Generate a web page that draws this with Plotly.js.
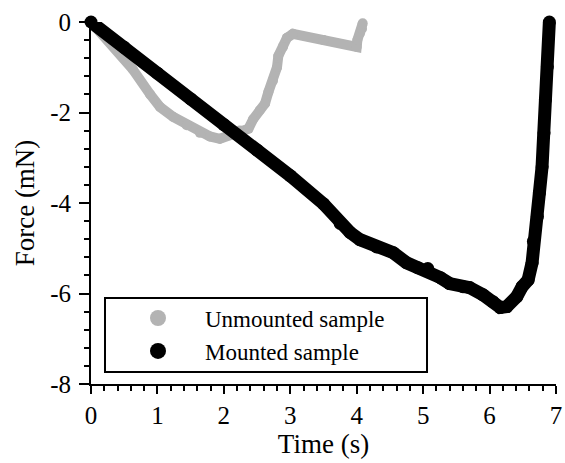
<!DOCTYPE html>
<html>
<head>
<meta charset="utf-8">
<script src="https://cdn.plot.ly/plotly-3.0.1.min.js"></script>
<style>html,body{margin:0;padding:0;background:#fff;}#chart{width:565px;height:463px;}</style>
</head>
<body>
<div id="chart"></div>
<script>
// Unmounted sample (gray)
var unmountedTime = [0, 0.14, 0.35, 0.63, 0.89, 1.04, 1.24, 1.44, 1.64, 1.79, 1.94, 2.09, 2.24, 2.37, 2.44, 2.54, 2.62, 2.67, 2.74, 2.8, 2.82, 2.89, 2.95, 3.04, 3.5, 4.0, 4.01, 4.05, 4.08, 4.09];
var unmountedForce = [0, -0.22, -0.55, -1.05, -1.6, -1.88, -2.1, -2.28, -2.45, -2.53, -2.58, -2.5, -2.4, -2.36, -2.15, -1.95, -1.8, -1.55, -1.3, -1.0, -0.75, -0.55, -0.35, -0.26, -0.4, -0.55, -0.4, -0.25, -0.15, -0.03];
// Mounted sample (black)
var mountedTime = [0, 0.5, 1, 1.5, 2, 2.5, 3, 3.5, 3.75, 3.9, 4.05, 4.3, 4.55, 4.75, 4.92, 5.07, 5.26, 5.4, 5.6, 5.7, 5.9, 6.05, 6.16, 6.26, 6.41, 6.49, 6.58, 6.64, 6.66, 6.72, 6.75, 6.79, 6.82, 6.84, 6.87, 6.9];
var mountedForce = [0, -0.56, -1.13, -1.7, -2.27, -2.83, -3.4, -4.02, -4.45, -4.65, -4.81, -4.97, -5.1, -5.32, -5.43, -5.45, -5.65, -5.78, -5.85, -5.87, -6.03, -6.18, -6.31, -6.29, -6.07, -5.85, -5.7, -5.32, -4.85, -4.3, -3.78, -3.2, -2.45, -1.72, -0.99, 0];
var seriesNames = ["Unmounted sample", "Mounted sample"];
var xTicks = [0, 1, 2, 3, 4, 5, 6, 7];
var yTicks = [-8, -6, -4, -2, 0];

var FONT = '"Liberation Serif", "Times New Roman", serif';
var GRAY = '#b3b3b3';

var traces = [
  {x: unmountedTime, y: unmountedForce, mode: 'lines+markers', cliponaxis: false,
   line: {color: GRAY, width: 10}, marker: {color: GRAY, size: 10}, showlegend: false, hoverinfo: 'skip'},
  {x: mountedTime, y: mountedForce, mode: 'lines+markers', cliponaxis: false,
   line: {color: '#000', width: 13}, marker: {color: '#000', size: 13}, showlegend: false, hoverinfo: 'skip'},
  {x: [null], y: [null], mode: 'markers', name: seriesNames[0], marker: {color: GRAY, size: 16}},
  {x: [null], y: [null], mode: 'markers', name: seriesNames[1], marker: {color: '#000', size: 16}}
];

var axisCommon = {
  showgrid: false, zeroline: false, showline: true, linecolor: '#000', linewidth: 2,
  ticks: 'outside', tickcolor: '#000', tickwidth: 2,
  tickfont: {family: FONT, size: 25, color: '#000'}
};

var layout = {
  width: 565, height: 463,
  margin: {l: 91, r: 9, t: 22, b: 79},
  paper_bgcolor: '#fff', plot_bgcolor: '#fff',
  font: {family: FONT, color: '#000'},
  xaxis: Object.assign({}, axisCommon, {
    range: [0, 7], tickvals: xTicks, ticktext: xTicks.map(String), ticklen: 8,
    ticklabelstandoff: 0,
    minor: {dtick: 0.2, ticklen: 5, tickwidth: 2, tickcolor: '#000', ticks: 'outside'},
    title: {text: 'Time (s)', font: {family: FONT, size: 27, color: '#000'}, standoff: 3}
  }),
  yaxis: Object.assign({}, axisCommon, {
    range: [-8, 0], tickvals: yTicks, ticktext: yTicks.map(String), ticklen: 10,
    ticklabelstandoff: 3,
    minor: {dtick: 0.4, ticklen: 5, tickwidth: 2, tickcolor: '#000', ticks: 'outside'},
    title: {text: 'Force (mN)', font: {family: FONT, size: 27, color: '#000'}, standoff: 8}
  }),
  showlegend: true,
  legend: {
    x: 0.043, y: 0.2416, xanchor: 'left', yanchor: 'top',
    bgcolor: 'rgba(0,0,0,0)', borderwidth: 0, itemwidth: 84,
    font: {family: FONT, size: 23, color: '#000'}
  },
  shapes: [{type: 'rect', xref: 'paper', yref: 'paper', x0: 0.0301, x1: 0.7226, y0: 0.0331, y1: 0.2376,
            line: {color: '#000', width: 2}, fillcolor: 'rgba(0,0,0,0)', layer: 'above'}]
};

Plotly.newPlot('chart', traces, layout, {staticPlot: true, displayModeBar: false});
</script>
</body>
</html>
